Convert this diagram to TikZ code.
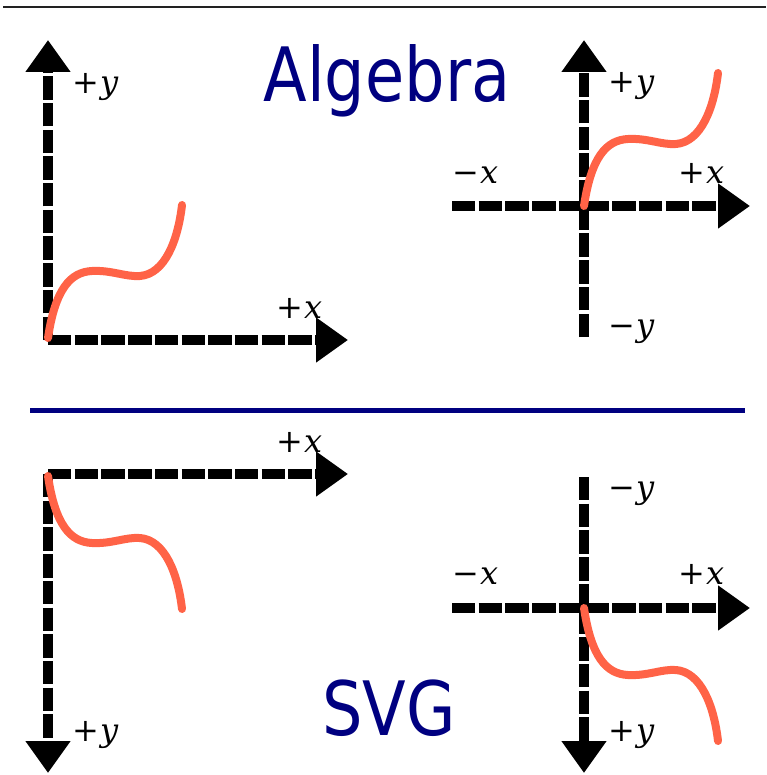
\documentclass[tikz,border=0pt]{standalone}
\usepackage{fontspec}
\usetikzlibrary{arrows.meta}
\newfontfamily\titlefont[FakeStretch=0.85]{DejaVu Sans}
\newfontfamily\labfont{DejaVu Serif}
\definecolor{navyblue}{RGB}{0,0,128}
\definecolor{tomatored}{RGB}{255,99,71}
\definecolor{rulegray}{RGB}{34,34,34}
\newcommand{\pl}{+\kern1pt}
\newcommand{\mn}{\char"2212\kern1pt}
\begin{document}
\begin{tikzpicture}[x=1pt,y=-1pt,
  axis/.style={line width=10pt, dash pattern=on 23.4pt off 3.3pt, -{Triangle[length=32pt,width=43pt]}},
  plotcurve/.style={tomatored, line width=8pt, line cap=round},
  lab/.style={font=\labfont\fontsize{32}{38}\selectfont, inner sep=0pt, anchor=base west},
  title/.style={font=\titlefont\fontsize{75}{80}\selectfont, text=navyblue, inner sep=0pt, anchor=base}]
\useasboundingbox (0,0) rectangle (766,775);

% rules
\coordinate (topL) at (3,7);
\coordinate (topR) at (766,7);
\draw[line width=2.5pt, rulegray] (topL) -- (topR);
\coordinate (midL) at (30,410.5);
\coordinate (midR) at (745,410.5);
\draw[line width=5pt, navyblue] (midL) -- (midR);

% titles
\node[title] (alg) at (387,102) {Algebra};
\node[title] (svg) at (389,735) {SVG};

% ---------- top-left ----------
\coordinate (tlO) at (48,340);
\coordinate (tlY) at (48,40);
\coordinate (tlX) at (348,340);
\draw[axis] (tlO) -- (tlY);
\draw[axis] (tlO) -- (tlX);
\draw[plotcurve, shift={(48,338)}] (0,0) .. controls (7,-48) and (22,-66) .. (44,-67)
  .. controls (64,-68) and (77,-61) .. (92,-62) .. controls (117,-64) and (130,-98) .. (134,-133);
\node[lab] (tlYl) at (72,94) {\pl\textit{y}};
\node[lab] (tlXl) at (276,318) {\pl\textit{x}};

% ---------- top-right ----------
\coordinate (trB) at (584,337);
\coordinate (trY) at (584,40);
\coordinate (trL) at (452,206);
\coordinate (trX) at (750,206);
\draw[axis] (trL) -- (trX);
\draw[axis] (trB) -- (trY);
\draw[plotcurve, shift={(584,206)}] (0,0) .. controls (7,-48) and (22,-66) .. (44,-67)
  .. controls (64,-68) and (77,-61) .. (92,-62) .. controls (117,-64) and (130,-98) .. (134,-133);
\node[lab] (trYl) at (608,93) {\pl\textit{y}};
\node[lab] (trNXl) at (452,184) {\mn\textit{x}};
\node[lab] (trXl) at (678,184) {\pl\textit{x}};
\node[lab] (trNYl) at (608,336) {\mn\textit{y}};

% ---------- bottom-left ----------
\coordinate (blO) at (48,474);
\coordinate (blY) at (48,773);
\coordinate (blX) at (348,474);
\draw[axis] (blO) -- (blY);
\draw[axis] (blO) -- (blX);
\draw[plotcurve, shift={(48,476)}, yscale=-1] (0,0) .. controls (7,-48) and (22,-66) .. (44,-67)
  .. controls (64,-68) and (77,-61) .. (92,-62) .. controls (117,-64) and (130,-98) .. (134,-133);
\node[lab] (blXl) at (276,452) {\pl\textit{x}};
\node[lab] (blYl) at (72,741) {\pl\textit{y}};

% ---------- bottom-right ----------
\coordinate (brT) at (584,477);
\coordinate (brY) at (584,773);
\coordinate (brL) at (452,608);
\coordinate (brX) at (750,608);
\draw[axis] (brL) -- (brX);
\draw[axis] (brT) -- (brY);
\draw[plotcurve, shift={(584,608)}, yscale=-1] (0,0) .. controls (7,-48) and (22,-66) .. (44,-67)
  .. controls (64,-68) and (77,-61) .. (92,-62) .. controls (117,-64) and (130,-98) .. (134,-133);
\node[lab] (brNYl) at (608,498) {\mn\textit{y}};
\node[lab] (brNXl) at (452,584) {\mn\textit{x}};
\node[lab] (brXl) at (678,584) {\pl\textit{x}};
\node[lab] (brYl) at (608,741) {\pl\textit{y}};
\end{tikzpicture}
\end{document}
